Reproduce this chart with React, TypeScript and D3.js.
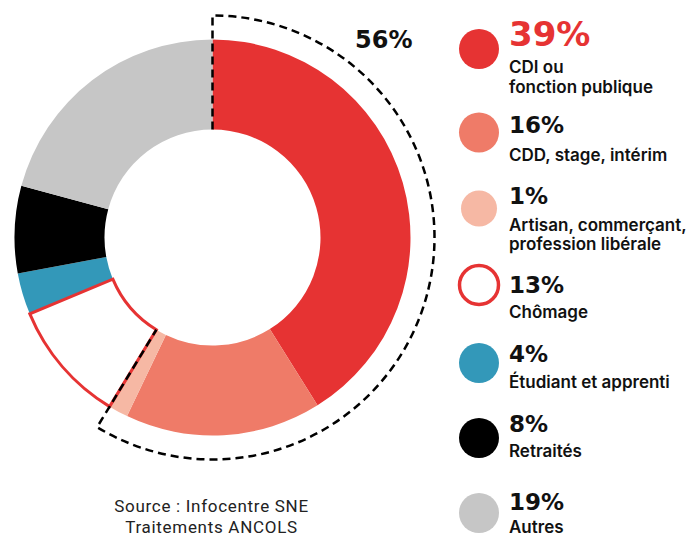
import React from "react";
import * as d3 from "d3";

// Legend percentages (as printed) and arc shares (as drawn in the donut)
const categories = [
  "CDI ou|fonction publique",
  "CDD, stage, intérim",
  "Artisan, commerçant,|profession libérale",
  "Chômage",
  "Étudiant et apprenti",
  "Retraités",
  "Autres",
];
const percentLabels = ["39%", "16%", "1%", "13%", "4%", "8%", "19%"];
const arcShares = [41.1, 16.0, 1.6, 10.0, 3.4, 7.1, 20.8];
const colors = ["#e63333", "#ef7b68", "#f6b8a4", "#ffffff", "#3398b9", "#000000", "#c6c6c6"];
const bracketCount = 3;
const bracketLabel = "56%";
const sourceLines = ["Source : Infocentre SNE", "Traitements ANCOLS"];

const W = 690;
const H = 537;
const cx = 212.5;
const cy = 237.5;
const rIn = 108;
const rOut = 198;
const rDash = 222;

const legendX = 479;
const legendTextX = 509;
const legendPctY = [46, 133.3, 203.5, 292.5, 362, 431.7, 510];
const legendLabelY = [[73.3, 93.3], [160.7], [230.5, 249.5], [318.3], [388.3], [456.7], [533]];
const legendCircleY = [49, 132.5, 208.5, 285, 363, 438, 513];
const legendCircleR = [20, 20, 18, 19.5, 20, 20, 20];

export default function App() {
  const pie = d3
    .pie<number>()
    .sort(null)
    .value((d) => d)
    .startAngle(0)
    .endAngle(2 * Math.PI);
  const arcs = pie(arcShares);
  const arcGen = d3.arc<d3.PieArcDatum<number>>().innerRadius(rIn).outerRadius(rOut);

  const endAngle = arcs[bracketCount - 1].endAngle;
  const p = d3.path();
  p.moveTo(0, -rIn);
  p.lineTo(0, -rDash);
  p.arc(0, 0, rDash, -Math.PI / 2, endAngle - Math.PI / 2, false);
  p.lineTo(rIn * Math.sin(endAngle), -rIn * Math.cos(endAngle));

  const order = [0, 1, 2, 4, 5, 6, 3];

  return (
    <svg
      width={W}
      height={H}
      style={{ position: "absolute", left: 0, top: 0, background: "#fff" }}
    >
      <g transform={`translate(${cx},${cy})`}>
        {order.map((i) => (
          <path
            key={i}
            d={arcGen(arcs[i]) || ""}
            fill={colors[i]}
            stroke={i === 3 ? "#e63333" : "none"}
            strokeWidth={i === 3 ? 3 : 0}
          />
        ))}
        <path
          d={p.toString()}
          fill="none"
          stroke="#000"
          strokeWidth={2.5}
          strokeDasharray="8 5"
        />
      </g>
      <text
        x={355}
        y={48}
        fontFamily="DejaVu Sans"
        fontWeight="bold"
        fontSize={24}
        fill="#111"
      >
        {bracketLabel}
      </text>

      {categories.map((c, i) => {
        const lines = c.split("|");
        return (
          <g key={i}>
            <circle
              cx={legendX}
              cy={legendCircleY[i]}
              r={legendCircleR[i]}
              fill={colors[i]}
              stroke={i === 3 ? "#e63333" : "none"}
              strokeWidth={i === 3 ? 3.5 : 0}
            />
            <text
              x={legendTextX}
              y={legendPctY[i]}
              fontFamily="DejaVu Sans"
              fontWeight="bold"
              fontSize={i === 0 ? 34 : 23}
              fill={i === 0 ? "#e63333" : "#111"}
            >
              {percentLabels[i]}
            </text>
            {lines.map((l, j) => (
              <text
                key={j}
                x={legendTextX}
                y={legendLabelY[i][j]}
                fontFamily="Inter"
                fontWeight={600}
                fontSize={17}
                fill="#111"
              >
                {l}
              </text>
            ))}
          </g>
        );
      })}

      {sourceLines.map((s, i) => (
        <text
          key={i}
          x={211.5}
          y={511.5 + i * 21}
          textAnchor="middle"
          fontFamily="Roboto"
          fontSize={17}
          letterSpacing={0.7}
          fill="#222"
        >
          {s}
        </text>
      ))}
    </svg>
  );
}
